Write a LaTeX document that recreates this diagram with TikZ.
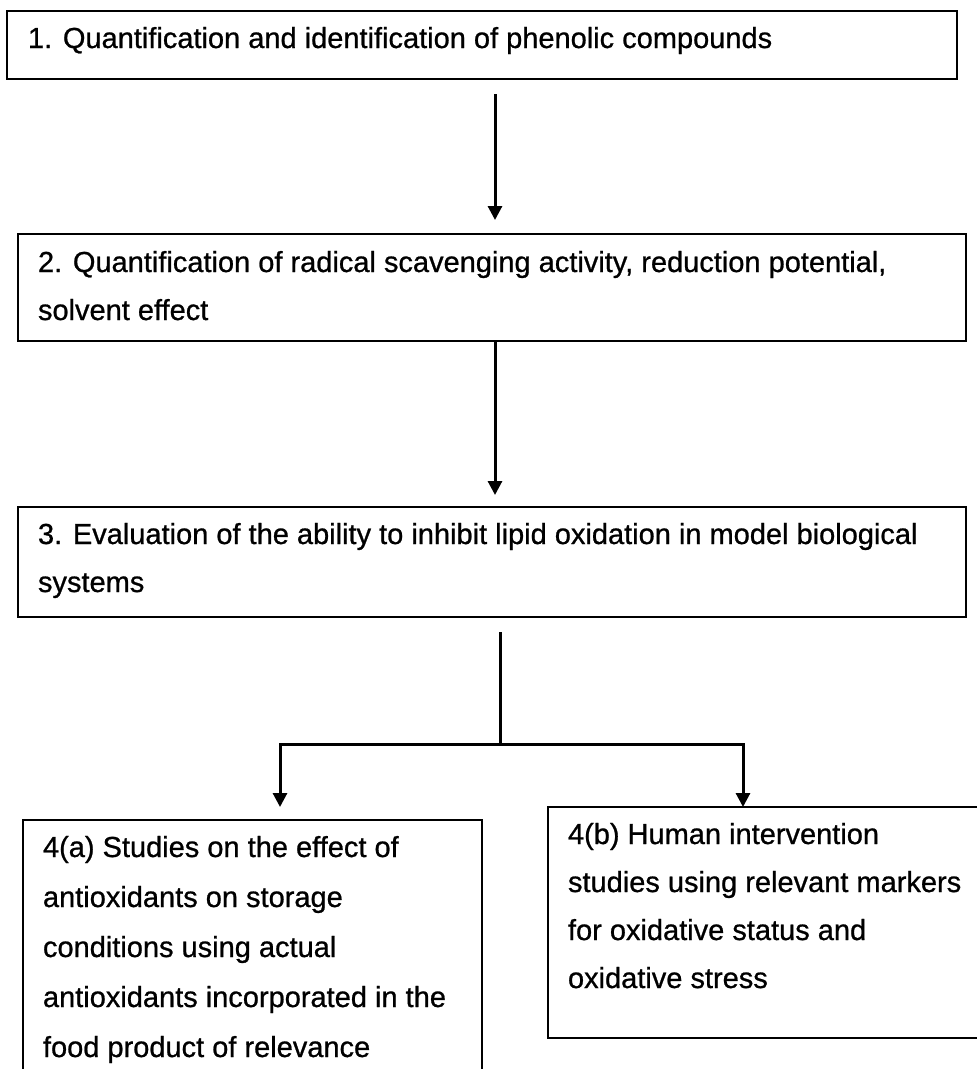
\documentclass[tikz,border=0pt]{standalone}
\usepackage{fontspec}
\setmainfont{Liberation Sans}[FakeBold=0.8]
\usetikzlibrary{arrows.meta}
\begin{document}
\begin{tikzpicture}[x=1pt,y=-1pt,
  box/.style={draw=black, line width=2.2pt, inner sep=0pt, outer sep=0pt, anchor=north west, rectangle},
  txt/.style={anchor=base west, inner sep=0pt, outer sep=0pt, font=\fontsize{29}{48}\selectfont, text=black},
  arr/.style={line width=3pt, -{Triangle[length=14pt,width=14pt]}},
  ln/.style={line width=3pt}]
\useasboundingbox (0,0) rectangle (977,1069);
\clip (0,0) rectangle (977,1069);
\fill[white] (0,0) rectangle (977,1069);
% boxes
\node[box, minimum width=950pt, minimum height=68pt] (b1) at (7,11) {};
\node[box, minimum width=948pt, minimum height=107pt] (b2) at (18,234) {};
\node[box, minimum width=948pt, minimum height=110pt] (b3) at (18,507) {};
\node[box, minimum width=459pt, minimum height=270pt] (b4a) at (23,820) {};
\node[box, minimum width=442pt, minimum height=231pt] (b4b) at (548,807) {};
% texts
\node[txt] (t1) at (28,48) {1. Quantification and identification of phenolic compounds};
\node[txt] (t2) at (38,272) {\parbox[t]{930pt}{\raggedright 2. Quantification of radical scavenging activity, reduction potential,\\solvent effect}};
\node[txt] (t3) at (38,544) {\parbox[t]{930pt}{\raggedright 3. Evaluation of the ability to inhibit lipid oxidation in model biological\\systems}};
\node[txt, font=\fontsize{29}{50}\selectfont] (t4a) at (43,857) {\parbox[t]{600pt}{\raggedright 4(a) Studies on the effect of\\antioxidants on storage\\conditions using actual\\antioxidants incorporated in the\\food product of relevance}};
\node[txt] (t4b) at (568,844) {\parbox[t]{600pt}{\raggedright 4(b) Human intervention\\studies using relevant markers\\for oxidative status and\\oxidative stress}};
% connectors
\draw[arr] ([shift={(13,15)}]b1.south) -- ([shift={(3,-14)}]b2.north);
\draw[arr] ([shift={(3,0)}]b2.south) -- ([shift={(3,-12)}]b3.north);
\coordinate (j) at (500,744);
\draw[ln] ([shift={(8,15)}]b3.south) -- (j);
\draw[arr] (j) -| ([shift={(27.5,-13)}]b4a.north);
\draw[arr] (j) -| ([shift={(-26,0)}]b4b.north);
\end{tikzpicture}
\end{document}
